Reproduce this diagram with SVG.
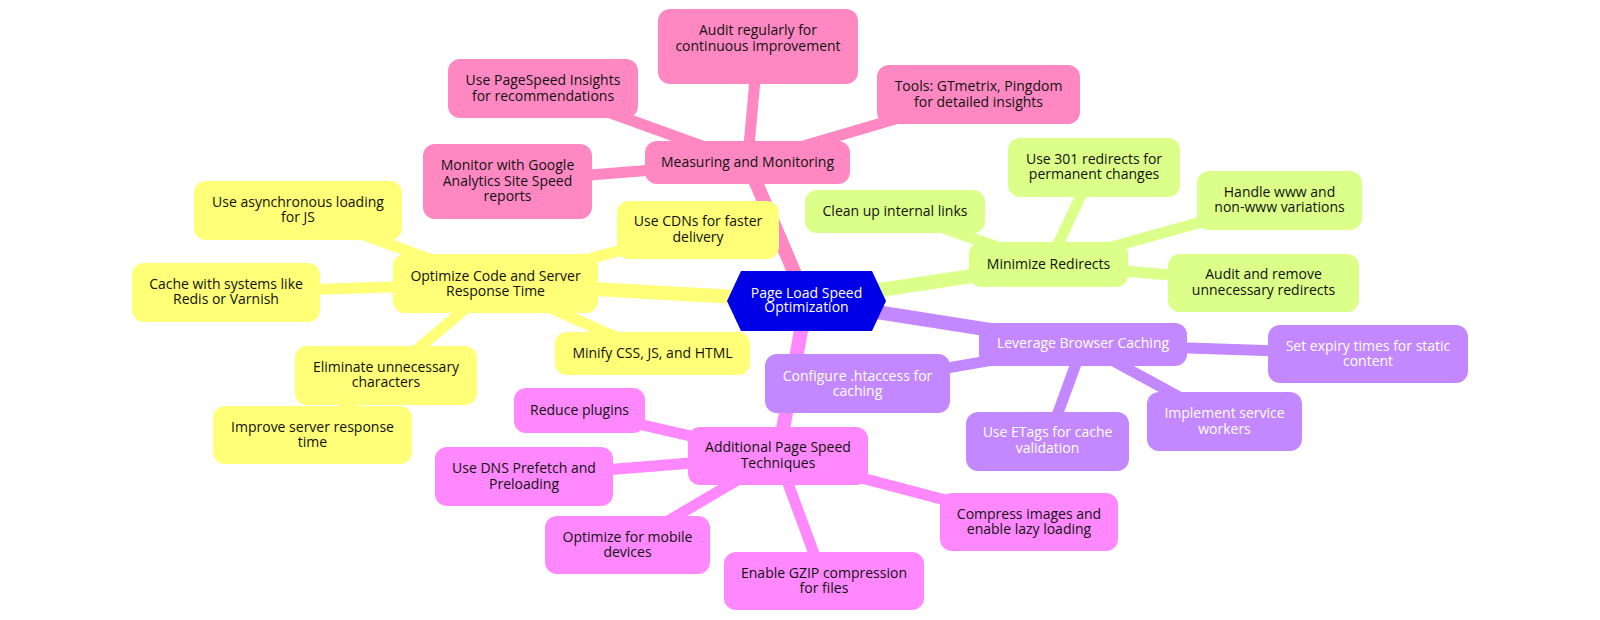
<svg xmlns="http://www.w3.org/2000/svg" width="1600" height="620" viewBox="0 0 1600 620">
<style>
text{font-family:"Open Sans","Noto Sans","Liberation Sans",sans-serif;font-size:14px;text-anchor:middle;fill:#111}
.e0{stroke-width:14;fill:none;stroke-linecap:round}
.e1{stroke-width:11;fill:none;stroke-linecap:round}
.pk{fill:#ff88c2}.pks{stroke:#ff88c2}
.yl{fill:#ffff78}.yls{stroke:#ffff78}
.gr{fill:#dbff88}.grs{stroke:#dbff88}
.pu{fill:#c388ff}.pus{stroke:#c388ff}
.mg{fill:#ff88ff}.mgs{stroke:#ff88ff}
.lt{fill:#ffffff}
</style>
<rect width="1600" height="620" fill="#ffffff"/>
<g id="connectors">
<line class="e1 pks" x1="747.5" y1="162.5" x2="758" y2="46.5"/>
<line class="e1 pks" x1="747.5" y1="162.5" x2="543" y2="88.5"/>
<line class="e1 pks" x1="747.5" y1="162.5" x2="978.5" y2="94.5"/>
<line class="e1 pks" x1="747.5" y1="162.5" x2="507.5" y2="181.5"/>
<line class="e1 yls" x1="495.5" y1="283.5" x2="298" y2="210.5"/>
<line class="e1 yls" x1="495.5" y1="283.5" x2="226" y2="292.5"/>
<line class="e1 yls" x1="495.5" y1="283.5" x2="698" y2="230"/>
<line class="e1 yls" x1="495.5" y1="283.5" x2="652.5" y2="353.5"/>
<line class="e1 yls" x1="495.5" y1="283.5" x2="386" y2="375.5"/>
<line class="e1 yls" x1="386" y1="375.5" x2="312.5" y2="435"/>
<line class="e1 grs" x1="1048.5" y1="264.5" x2="895" y2="211.5"/>
<line class="e1 grs" x1="1048.5" y1="264.5" x2="1094" y2="167.5"/>
<line class="e1 grs" x1="1048.5" y1="264.5" x2="1279.5" y2="200.5"/>
<line class="e1 grs" x1="1048.5" y1="264.5" x2="1263.5" y2="283"/>
<line class="e1 pus" x1="1083" y1="344.5" x2="857.5" y2="383.5"/>
<line class="e1 pus" x1="1083" y1="344.5" x2="1368" y2="354"/>
<line class="e1 pus" x1="1083" y1="344.5" x2="1047.5" y2="441.5"/>
<line class="e1 pus" x1="1083" y1="344.5" x2="1224.5" y2="421.5"/>
<line class="e1 mgs" x1="778" y1="456" x2="579.5" y2="410.5"/>
<line class="e1 mgs" x1="778" y1="456" x2="524" y2="476.5"/>
<line class="e1 mgs" x1="778" y1="456" x2="627.5" y2="545"/>
<line class="e1 mgs" x1="778" y1="456" x2="824" y2="581"/>
<line class="e1 mgs" x1="778" y1="456" x2="1029" y2="522"/>
<line class="e0 pks" x1="806.5" y1="301" x2="747.5" y2="162.5"/>
<line class="e0 yls" x1="806.5" y1="301" x2="495.5" y2="283.5"/>
<line class="e0 grs" x1="806.5" y1="301" x2="1048.5" y2="264.5"/>
<line class="e0 pus" x1="806.5" y1="301" x2="1083" y2="344.5"/>
<line class="e0 mgs" x1="806.5" y1="301" x2="778" y2="456"/>
</g>
<g id="n-measuring"><rect class="pk" x="645" y="141" width="205" height="43" rx="12"/><text x="747.5" y="167">Measuring and Monitoring</text></g>
<g id="n-audit-regularly"><rect class="pk" x="658" y="9" width="200" height="75" rx="12"/><text x="758" y="35">Audit regularly for<tspan x="758" dy="16">continuous improvement</tspan></text></g>
<g id="n-pagespeed"><rect class="pk" x="448" y="59" width="190" height="59" rx="12"/><text x="543" y="85">Use PageSpeed Insights<tspan x="543" dy="16">for recommendations</tspan></text></g>
<g id="n-tools"><rect class="pk" x="877" y="65" width="203" height="59" rx="12"/><text x="978.5" y="91">Tools: GTmetrix, Pingdom<tspan x="978.5" dy="16">for detailed insights</tspan></text></g>
<g id="n-monitor"><rect class="pk" x="423" y="144" width="169" height="75" rx="12"/><text x="507.5" y="170">Monitor with Google<tspan x="507.5" dy="15.5">Analytics Site Speed</tspan><tspan x="507.5" dy="15.5">reports</tspan></text></g>
<g id="n-optimize"><rect class="yl" x="393" y="254" width="205" height="59" rx="12"/><text x="495.5" y="281">Optimize Code and Server<tspan x="495.5" dy="15">Response Time</tspan></text></g>
<g id="n-async"><rect class="yl" x="194" y="181" width="208" height="59" rx="12"/><text x="298" y="207">Use asynchronous loading<tspan x="298" dy="15">for JS</tspan></text></g>
<g id="n-cache"><rect class="yl" x="132" y="263" width="188" height="59" rx="12"/><text x="226" y="289">Cache with systems like<tspan x="226" dy="15">Redis or Varnish</tspan></text></g>
<g id="n-cdn"><rect class="yl" x="617" y="201" width="162" height="58" rx="12"/><text x="698" y="226">Use CDNs for faster<tspan x="698" dy="16">delivery</tspan></text></g>
<g id="n-minify"><rect class="yl" x="555" y="332" width="195" height="43" rx="12"/><text x="652.5" y="358">Minify CSS, JS, and HTML</text></g>
<g id="n-eliminate"><rect class="yl" x="295" y="346" width="182" height="59" rx="12"/><text x="386" y="372">Eliminate unnecessary<tspan x="386" dy="15">characters</tspan></text></g>
<g id="n-improve"><rect class="yl" x="213" y="406" width="199" height="58" rx="12"/><text x="312.5" y="432">Improve server response<tspan x="312.5" dy="15">time</tspan></text></g>
<g id="n-redirects"><rect class="gr" x="969" y="242" width="159" height="45" rx="12"/><text x="1048.5" y="269">Minimize Redirects</text></g>
<g id="n-cleanup"><rect class="gr" x="805" y="190" width="180" height="43" rx="12"/><text x="895" y="216">Clean up internal links</text></g>
<g id="n-301"><rect class="gr" x="1008" y="138" width="172" height="59" rx="12"/><text x="1094" y="164">Use 301 redirects for<tspan x="1094" dy="15">permanent changes</tspan></text></g>
<g id="n-www"><rect class="gr" x="1197" y="171" width="165" height="59" rx="12"/><text x="1279.5" y="197">Handle www and<tspan x="1279.5" dy="15">non-www variations</tspan></text></g>
<g id="n-audit-remove"><rect class="gr" x="1168" y="254" width="191" height="58" rx="12"/><text x="1263.5" y="279">Audit and remove<tspan x="1263.5" dy="16">unnecessary redirects</tspan></text></g>
<g id="n-caching"><rect class="pu" x="979" y="323" width="208" height="43" rx="12"/><text class="lt" x="1083" y="348">Leverage Browser Caching</text></g>
<g id="n-htaccess"><rect class="pu" x="765" y="354" width="185" height="59" rx="12"/><text class="lt" x="857.5" y="381">Configure .htaccess for<tspan x="857.5" dy="15">caching</tspan></text></g>
<g id="n-expiry"><rect class="pu" x="1268" y="325" width="200" height="58" rx="12"/><text class="lt" x="1368" y="351">Set expiry times for static<tspan x="1368" dy="15">content</tspan></text></g>
<g id="n-etags"><rect class="pu" x="966" y="412" width="163" height="59" rx="12"/><text class="lt" x="1047.5" y="437">Use ETags for cache<tspan x="1047.5" dy="16">validation</tspan></text></g>
<g id="n-service"><rect class="pu" x="1147" y="392" width="155" height="59" rx="12"/><text class="lt" x="1224.5" y="418">Implement service<tspan x="1224.5" dy="16">workers</tspan></text></g>
<g id="n-additional"><rect class="mg" x="688" y="427" width="180" height="58" rx="12"/><text x="778" y="452">Additional Page Speed<tspan x="778" dy="16">Techniques</tspan></text></g>
<g id="n-plugins"><rect class="mg" x="514" y="388" width="131" height="45" rx="12"/><text x="579.5" y="415">Reduce plugins</text></g>
<g id="n-dns"><rect class="mg" x="435" y="447" width="178" height="59" rx="12"/><text x="524" y="473">Use DNS Prefetch and<tspan x="524" dy="16">Preloading</tspan></text></g>
<g id="n-mobile"><rect class="mg" x="545" y="516" width="165" height="58" rx="12"/><text x="627.5" y="542">Optimize for mobile<tspan x="627.5" dy="15">devices</tspan></text></g>
<g id="n-gzip"><rect class="mg" x="724" y="552" width="200" height="58" rx="12"/><text x="824" y="578">Enable GZIP compression<tspan x="824" dy="15">for files</tspan></text></g>
<g id="n-compress"><rect class="mg" x="940" y="493" width="178" height="58" rx="12"/><text x="1029" y="519">Compress images and<tspan x="1029" dy="15">enable lazy loading</tspan></text></g>
<g id="n-root"><polygon points="727,301 741,271 872,271 886,301 872,331 741,331" fill="#0000e6"/><text class="lt" x="806.5" y="298">Page Load Speed<tspan x="806.5" dy="14">Optimization</tspan></text></g>
</svg>
